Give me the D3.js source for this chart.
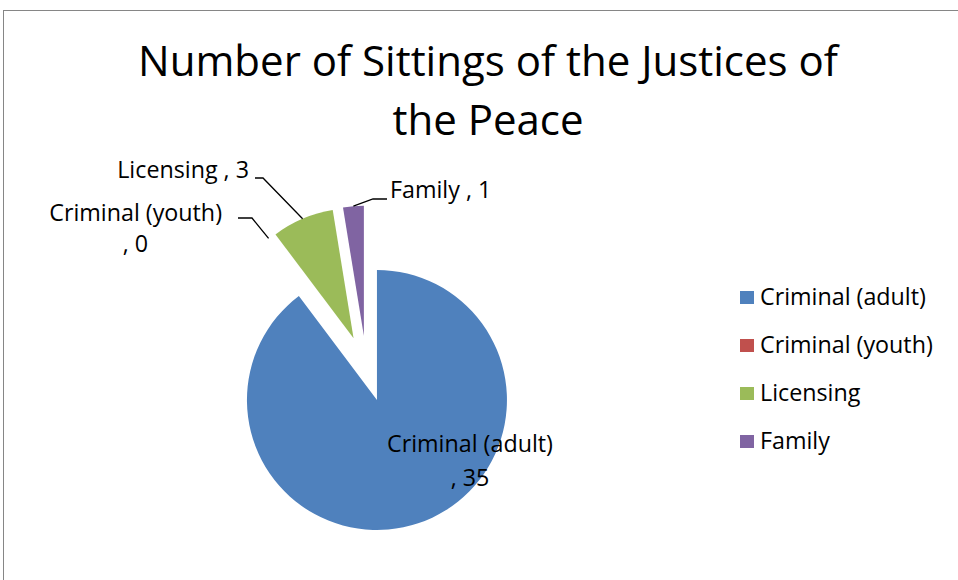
<!DOCTYPE html>
<html><head><meta charset="utf-8">
<script src="https://cdn.jsdelivr.net/npm/d3@7"></script>
<style>html,body{margin:0;padding:0;background:#fff;} svg{display:block;}</style>
</head><body>
<svg id="chart" width="958" height="580"></svg>
<script>
const categories = ["Criminal (adult)", "Criminal (youth)", "Licensing", "Family"];
const values = [35, 0, 3, 1];
const colors = ["#4F81BD", "#C0504D", "#9BBB59", "#8064A2"];
const titleLines = ["Number of Sittings of the Justices of", "the Peace"];

const svg = d3.select("#chart");
const FONT = "'Open Sans', 'Noto Sans', sans-serif";

// fit a font size so that a string reaches a target width
function fitSize(str, target, base) {
  const t = svg.append("text").attr("font-family", FONT).attr("font-size", base).text(str);
  const w = t.node().getComputedTextLength();
  t.remove();
  return base * target / w;
}
const titleSize = fitSize(titleLines[0], 700, 40);
const textSize = fitSize(categories[0], 166, 20);

// chart border
svg.append("rect").attr("x", 3.5).attr("y", 10.5).attr("width", 1000).attr("height", 600)
  .attr("fill", "#fff").attr("stroke", "#868686").attr("stroke-width", 1);

// title
svg.append("text").attr("text-anchor", "middle")
  .attr("font-family", FONT).attr("font-size", titleSize).attr("fill", "#000")
  .selectAll("tspan").data(titleLines).join("tspan")
  .attr("x", 488).attr("y", (d, i) => 76 + i * 59).text(d => d);

// pie
const cx = 366.5, cy = 368.7, R = 130, explode = 33;
const pie = d3.pie().sort(null).value(d => d.v).startAngle(0).endAngle(2 * Math.PI);
const arcs = pie(categories.map((c, i) => ({ c, v: values[i], col: colors[i] })));
const arc = d3.arc().innerRadius(0).outerRadius(R);
const g = svg.append("g").attr("transform", `translate(${cx},${cy})`);
const off = a => { const m = (a.startAngle + a.endAngle) / 2; return [explode * Math.sin(m), -explode * Math.cos(m)]; };
g.selectAll("path").data(arcs.filter(a => a.data.v > 0)).join("path")
  .attr("d", arc).attr("fill", d => d.data.col)
  .attr("transform", d => { const o = off(d); return `translate(${o[0]},${o[1]})`; });

// data labels
const outerPt = a => { const m = (a.startAngle + a.endAngle) / 2, o = off(a);
  return [cx + o[0] + R * Math.sin(m), cy + o[1] - R * Math.cos(m)]; };
const labelSpec = [
  { i: 0, x: 470, y: 452, lines: [categories[0], ", " + values[0]], anchor: "middle", gap: 34 },
  { i: 1, x: 222, y: 221, lines: [categories[1], ", " + values[1]], anchor: "end", line2x: 148, gap: 31, bend: [238, 252, 218] },
  { i: 2, x: 249, y: 178, lines: [categories[2] + " , " + values[2]], anchor: "end", bend: [255, 263, 178] },
  { i: 3, x: 390, y: 198, lines: [categories[3] + " , " + values[3]], anchor: "start", bend: [387, 373, 199] }
];
labelSpec.forEach(s => {
  const t = svg.append("text").attr("font-family", FONT).attr("font-size", textSize).attr("fill", "#000")
    .attr("text-anchor", s.anchor);
  s.lines.forEach((l, k) => t.append("tspan")
    .attr("x", k > 0 && s.line2x ? s.line2x : s.x).attr("y", s.y + k * (s.gap || 0)).text(l));
  if (s.bend) {
    const p = outerPt(arcs[s.i]);
    svg.append("path").attr("fill", "none").attr("stroke", "#000").attr("stroke-width", 1.3)
      .attr("d", `M${s.bend[0]},${s.bend[2]}L${s.bend[1]},${s.bend[2]}L${p[0]},${p[1]}`);
  }
});

// legend
const lg = svg.append("g").attr("transform", "translate(740,291)");
const items = lg.selectAll("g").data(categories).join("g").attr("transform", (d, i) => `translate(0,${i * 48})`);
items.append("rect").attr("width", 14).attr("height", 13).attr("fill", (d, i) => colors[i]);
items.append("text").attr("x", 20).attr("y", 14).attr("font-family", FONT).attr("font-size", textSize).attr("fill", "#000").text(d => d);
</script>
</body></html>
